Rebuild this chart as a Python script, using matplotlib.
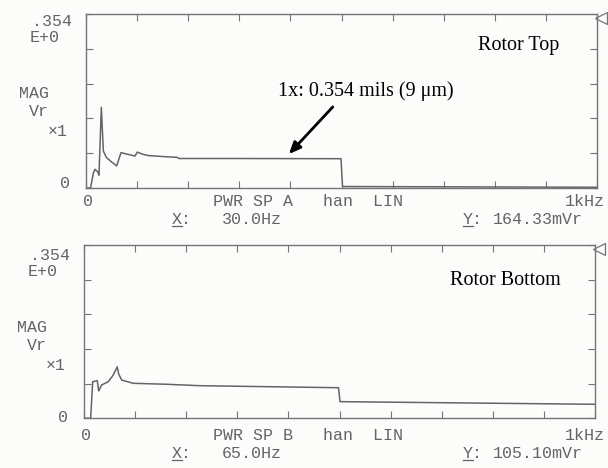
import matplotlib
matplotlib.use("Agg")
import matplotlib.pyplot as plt
import numpy as np

# ---------------- data ----------------
full_scale = 0.354
x_max = 1000.0

freq_top = [0, 9, 14.3, 17.6, 22.9, 25.4, 30.0, 34, 40, 50, 60, 68.5, 80, 95.9,
            100.4, 110, 122, 150, 177.5, 182.6, 300, 499, 502, 1000]
mag_top = [0, 0, 0.030, 0.038, 0.033, 0.026, 0.164, 0.075, 0.062, 0.053, 0.045,
           0.072, 0.069, 0.065, 0.073, 0.069, 0.066, 0.064, 0.0625, 0.060, 0.060,
           0.0596, 0.003, 0.0015]

freq_bot = [0, 13, 17, 26, 28.8, 34.4, 47.5, 57, 65.0, 68, 74, 96.5, 162, 227,
            498, 501, 1000]
mag_bot = [0, 0, 0.0748, 0.0768, 0.0558, 0.068, 0.0748, 0.088, 0.1051, 0.090,
           0.078, 0.0715, 0.0695, 0.0666, 0.0625, 0.034, 0.0286]

x_ticks = [0, 100, 200, 300, 400, 500, 600, 700, 800, 900, 1000]
y_ticks = [0, 0.0708, 0.1416, 0.2124, 0.2832, 0.354]

top_labels = dict(scale=".354", exp="E+0", mag="MAG", unit="Vr", mult="×1",
                  zero="0", info="PWR SP A   han  LIN", xend="1kHz",
                  xval="30.0Hz", yval="164.33mVr", title="Rotor Top")
bot_labels = dict(scale=".354", exp="E+0", mag="MAG", unit="Vr", mult="×1",
                  zero="0", info="PWR SP B   han  LIN", xend="1kHz",
                  xval="65.0Hz", yval="105.10mVr", title="Rotor Bottom")
annot_text = "1x: 0.354 mils (9 μm)"
arrow_tail = (483, 0.165)
arrow_head = (397, 0.069)

# ---------------- figure ----------------
W, H = 608, 468
fig = plt.figure(figsize=(W / 100, H / 100), dpi=100, facecolor="#fcfcfa")

ink = "#646464"
frame = "#747474"
mono = "Liberation Mono"
serif = "Liberation Serif"


def px(x, y):
    return x / W, 1 - y / H


def ftxt(x, y, s, ha="left", va="center", **kw):
    kw.setdefault("family", mono)
    kw.setdefault("fontsize", 12)
    kw.setdefault("color", ink)
    fig.text(*px(x, y), s, ha=ha, va=va, **kw)


def uline(x0, x1, y):
    fig.add_artist(plt.Line2D([x0 / W, x1 / W], [1 - y / H, 1 - y / H],
                              color=ink, lw=0.9))


def make_panel(left, top, right, bottom, f, m):
    ax = fig.add_axes([left / W, 1 - bottom / H, (right - left) / W,
                       (bottom - top) / H])
    ax.set_facecolor("none")
    ax.plot(f, m, color=ink, lw=1.1)
    ax.set_xlim(0, x_max)
    ax.set_ylim(0, full_scale)
    ax.set_xticks(x_ticks)
    ax.set_yticks(y_ticks)
    ax.tick_params(direction="in", length=5, width=0.8, color=frame,
                   top=True, right=True, labelleft=False, labelbottom=False)
    for s in ax.spines.values():
        s.set_color(frame)
        s.set_linewidth(1.0)
    # reference level marker
    ax.plot([1.007], [0.975], marker="<", ms=8, mfc="none", mec=frame, mew=0.9,
            transform=ax.transAxes, clip_on=False)
    return ax


def panel_texts(lab, dy, dx=0):
    ftxt(72 + dx, 22 + dy, lab["scale"], ha="right")
    ftxt(60 + dx, 38 + dy, lab["exp"], ha="right")
    ftxt(49 + dx, 93 + dy, lab["mag"], ha="right")
    ftxt(49 + dx, 111 + dy, lab["unit"], ha="right")
    ftxt(68 + dx, 131 + dy, lab["mult"], ha="right")
    ftxt(70 + dx, 183 + dy, lab["zero"], ha="right")
    ftxt(87.5 + dx, 202 + dy, lab["zero"], ha="center")
    ftxt(213, 202 + dy, lab["info"])
    ftxt(605, 202 + dy, lab["xend"], ha="right")
    ftxt(172, 219 + dy, "X:")
    uline(172, 182, 226 + dy)
    ftxt(222, 219 + dy, lab["xval"])
    ftxt(463, 219 + dy, "Y:")
    uline(463, 473, 226 + dy)
    ftxt(493, 219 + dy, lab["yval"])


ax1 = make_panel(86, 14, 597, 188, freq_top, mag_top)
ax2 = make_panel(84, 245, 595, 418.3, freq_bot, mag_bot)

panel_texts(top_labels, 0)
panel_texts(bot_labels, 234, dx=-2)

fig.text(*px(478, 50), top_labels["title"], family=serif, fontsize=14.5,
         color="black", ha="left", va="baseline")
fig.text(*px(450, 285), bot_labels["title"], family=serif, fontsize=14.5,
         color="black", ha="left", va="baseline")
fig.text(*px(278, 96), annot_text, family=serif, fontsize=14.5,
         color="black", ha="left", va="baseline")

ax1.annotate("", xy=arrow_head, xytext=arrow_tail, xycoords="data",
             arrowprops=dict(arrowstyle="-|>,head_length=0.7,head_width=0.3",
                             color="black", lw=2.0, shrinkA=0, shrinkB=0))

fig.savefig("out.png", dpi=100, facecolor=fig.get_facecolor())
